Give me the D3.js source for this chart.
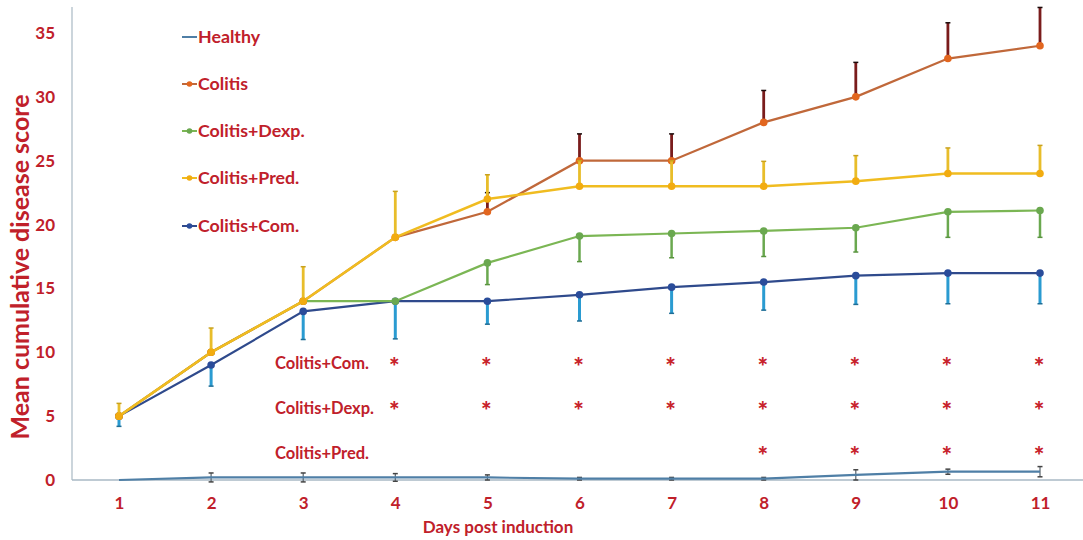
<!DOCTYPE html>
<html>
<head>
<meta charset="utf-8">
<script src="https://cdn.jsdelivr.net/npm/d3@7"></script>
<style>
  html, body { margin: 0; padding: 0; background: #fff; }
  svg text { font-family: Lato, "Open Sans", sans-serif; font-weight: 700; }
</style>
</head>
<body>
<svg id="chart" width="1083" height="540"></svg>
<script>
const days = [1, 2, 3, 4, 5, 6, 7, 8, 9, 10, 11];
const yTicks = [0, 5, 10, 15, 20, 25, 30, 35];

const healthy     = [0, 0.2, 0.2, 0.2, 0.2, 0.1, 0.1, 0.1, 0.4, 0.65, 0.65];
const healthyErr  = [0, 0.35, 0.35, 0.3, 0.2, 0.1, 0.1, 0.1, 0.4, 0.2, 0.4];
const colitis     = [5, 10, 14, 19, 21, 25, 25, 28, 30, 33, 34];
const colitisErr  = [0, 0, 0, 0, 1.5, 2.1, 2.1, 2.5, 2.7, 2.8, 3.0];
const dexp        = [5, 10, 14, 14, 17, 19.1, 19.3, 19.5, 19.75, 21.0, 21.1];
const dexpErr     = [0, 0, 0, 0, 1.7, 2.0, 1.9, 2.0, 1.9, 2.0, 2.1];
const pred        = [5, 10, 14, 19, 22, 23, 23, 23, 23.4, 24.0, 24.0];
const predErr     = [1.0, 1.9, 2.7, 3.6, 1.9, 2.0, 2.0, 1.95, 2.0, 2.0, 2.2];
const com         = [5, 9, 13.2, 14, 14, 14.5, 15.1, 15.5, 16.0, 16.2, 16.2];
const comErr      = [0.8, 1.65, 2.2, 2.95, 1.8, 2.05, 2.05, 2.2, 2.25, 2.4, 2.4];

const seriesNames = ["Healthy", "Colitis", "Colitis+Dexp.", "Colitis+Pred.", "Colitis+Com."];
const sigLabels = ["Colitis+Com.", "Colitis+Dexp.", "Colitis+Pred."];
const sigComDays = [4, 5, 6, 7, 8, 9, 10, 11];
const sigDexpDays = [4, 5, 6, 7, 8, 9, 10, 11];
const sigPredDays = [8, 9, 10, 11];
const sigLevels = [9.1, 5.6, 2.1];

const RED = "#c0202a";

const svg = d3.select("#chart");
const x = d3.scaleLinear().domain([1, 11]).range([119, 1040]);
const y = d3.scaleLinear().domain([0, 35]).range([480, 33]);

// axes lines
svg.append("line").attr("x1", 72).attr("x2", 72).attr("y1", 7).attr("y2", y(0))
  .attr("stroke", "#a9b9c4").attr("stroke-width", 1.2);
svg.append("line").attr("x1", 72).attr("x2", 1083).attr("y1", y(0)).attr("y2", y(0))
  .attr("stroke", "#a9b9c4").attr("stroke-width", 1.5);

// y ticks
const yAxis = svg.append("g").attr("transform", "translate(72,0)")
  .call(d3.axisLeft(y).tickValues(yTicks).tickSize(0).tickPadding(17).tickFormat(d3.format("d")));
yAxis.select(".domain").remove();
yAxis.selectAll("text").attr("fill", RED).style("font-size", "17px");

// x ticks
const xAxis = svg.append("g").attr("transform", `translate(0,${y(0)})`)
  .call(d3.axisBottom(x).tickValues(days).tickSize(0).tickPadding(17).tickFormat(d3.format("d")));
xAxis.select(".domain").remove();
xAxis.selectAll("text").attr("fill", RED).style("font-size", "17px");

// axis titles
svg.append("text").attr("transform", "translate(29,267) rotate(-90)")
  .attr("text-anchor", "middle").attr("fill", RED).style("font-size", "25px")
  .text("Mean cumulative disease score");
svg.append("text").attr("x", 498).attr("y", 533).attr("text-anchor", "middle")
  .attr("fill", RED).style("font-size", "17px").text("Days post induction");

const line = d3.line().x((d, i) => x(days[i])).y(d => y(d));

function errBars(vals, errs, dir, color, capColor, width, both) {
  const g = svg.append("g");
  vals.forEach((v, i) => {
    if (errs[i] <= 0) return;
    const top = both ? v + errs[i] : (dir > 0 ? v + errs[i] : v);
    const bot = both ? v - errs[i] : (dir > 0 ? v : v - errs[i]);
    g.append("line").attr("x1", x(days[i])).attr("x2", x(days[i]))
      .attr("y1", y(top)).attr("y2", y(bot)).attr("stroke", color).attr("stroke-width", width);
    const caps = both ? [top, bot] : [dir > 0 ? top : bot];
    caps.forEach(c => {
      g.append("line").attr("x1", x(days[i]) - 2.5).attr("x2", x(days[i]) + 2.5)
        .attr("y1", y(c)).attr("y2", y(c)).attr("stroke", capColor).attr("stroke-width", 1.5);
    });
  });
}

function series(vals, color, lw, dots) {
  svg.append("path").datum(vals).attr("d", line).attr("fill", "none")
    .attr("stroke", color).attr("stroke-width", lw);
  if (dots) {
    svg.append("g").selectAll("circle").data(vals).join("circle")
      .attr("cx", (d, i) => x(days[i])).attr("cy", d => y(d)).attr("r", 3.8).attr("fill", dots);
  }
}

// draw order: healthy, com, dexp, colitis, pred
errBars(healthy, healthyErr, 0, "#59636b", "#444", 1.2, true);
series(healthy, "#4f7fa6", 2.2, null);

errBars(com, comErr, -1, "#2a9bd1", "#1f6e96", 3, false);
series(com, "#2f4a8c", 2.2, "#2a4c9a");

errBars(dexp, dexpErr, -1, "#6aa84f", "#5a9440", 2.5, false);
series(dexp, "#7bb654", 2.2, "#6aa84f");

errBars(colitis, colitisErr, 1, "#7a1c1c", "#1a0a0a", 2.8, false);
series(colitis, "#c0683a", 2.2, "#e2661f");

errBars(pred, predErr, 1, "#e8bd2a", "#c9a21e", 2.8, false);
series(pred, "#f0bc20", 2.5, "#f2ac10");

// legend
const legColors = [null, "#e2661f", "#6aa84f", "#f2ac10", "#2a4c9a"];
const legLine = ["#4f7fa6", "#c0683a", "#7bb654", "#f0bc20", "#2f4a8c"];
const legY = [37, 84, 131, 178, 226];
seriesNames.forEach((name, i) => {
  svg.append("line").attr("x1", 182).attr("x2", 197).attr("y1", legY[i]).attr("y2", legY[i])
    .attr("stroke", legLine[i]).attr("stroke-width", 2);
  if (legColors[i]) {
    svg.append("circle").attr("cx", 189.5).attr("cy", legY[i]).attr("r", 2.8).attr("fill", legColors[i]);
  }
  svg.append("text").attr("x", 198).attr("y", legY[i] + 6).attr("fill", RED)
    .style("font-size", "17.8px").text(name);
});

// significance rows
const sigDays = [sigComDays, sigDexpDays, sigPredDays];
sigLabels.forEach((lab, r) => {
  const yy = y(sigLevels[r]);
  svg.append("text").attr("x", 275).attr("y", yy + 5.5).attr("fill", RED)
    .style("font-size", "16.5px").text(lab);
  svg.append("g").selectAll("text").data(sigDays[r]).join("text")
    .attr("x", d => x(d) - 1).attr("y", yy + 12).attr("text-anchor", "middle")
    .attr("fill", "#c8232c").style("font-size", "25px").style("font-weight", 900).text("*");
});
</script>
</body>
</html>
